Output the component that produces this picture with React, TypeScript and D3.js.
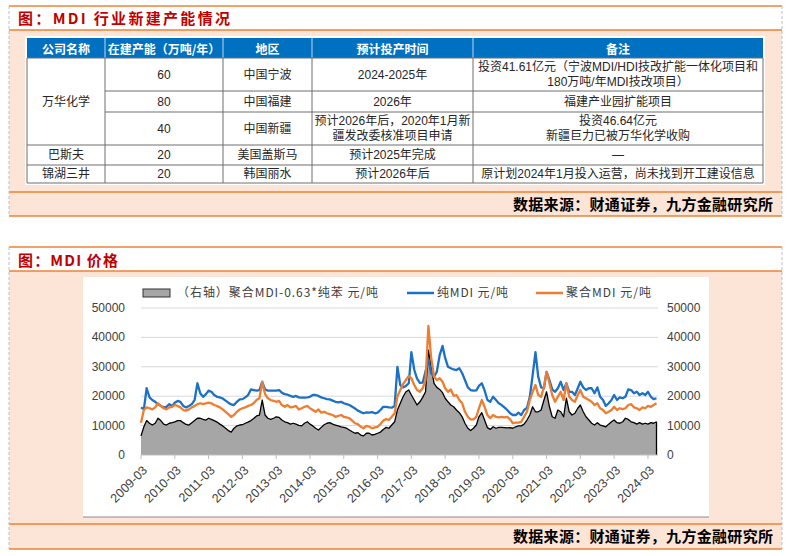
import * as d3 from "d3";
import React from "react";

// monthly points, 2009-03 .. 2024-06
const months = d3.timeMonth.range(new Date(2009, 2, 1), new Date(2024, 6, 1));

// 纯MDI 元/吨
const pureMdi = [
  16200, 15500, 22700, 19600, 18700, 18100, 17300, 16700, 16200, 16400,
  17300, 16700, 17800, 18400, 18100, 16700, 16200, 16700, 17300, 18700, 24400, 21000,
  19800, 20700, 21900, 21500, 20400, 19800, 19600, 19200, 18500, 17800, 17200, 17000,
  18100, 18900, 19000, 19600, 20400, 22300, 22100, 21900, 22100, 24900, 22300, 21900,
  21900, 21900, 21900, 22100, 21200, 20700, 20500, 20100, 19800, 20100, 19600, 19500,
  19500, 19600, 19800, 20400, 20400, 20100, 19600, 19300, 19000, 18900, 18500, 18100,
  17900, 18100, 17600, 17300, 17000, 16400, 15800, 15100, 14600, 14200, 14500, 14400,
  14600, 14200, 14400, 15300, 16400, 16400, 16200, 16100, 16700, 30000, 23800, 23000,
  23500, 24400, 35000, 29000, 26000, 24500, 24600, 28500, 32300, 27800, 26600, 28300,
  34000, 37100, 33000, 30000, 29500, 29100, 28900, 29500, 27800, 25500, 23000, 22100,
  21900, 22000, 23500, 24400, 22000, 18700, 18100, 19800, 18700, 17600, 17000, 16200,
  15300, 14200, 13600, 13600, 14400, 13600, 15300, 16000, 19800, 27000, 35000, 26600,
  23000, 22700, 28300, 25500, 22300, 21500, 22700, 24900, 22100, 24400, 21500, 21500,
  20400, 22700, 24900, 23000, 22100, 22700, 22700, 21000, 23000, 19800, 18700, 16700,
  17600, 18700, 20400, 18700, 19600, 19300, 19800, 22300, 22100, 21000, 21500, 20400,
  21000, 20400, 21500, 19800, 19000, 19300,
];

// 聚合MDI 元/吨
const polyMdi = [
  11000, 15300, 16200, 15900, 15500, 16200, 17600, 16700, 15900, 15500,
  16200, 16400, 17000, 16700, 16200, 15300, 15100, 15500, 16200, 16700, 17300, 17600,
  17300, 17600, 17800, 17600, 17000, 16700, 16200, 15500, 14700, 13900, 13000, 13600,
  14700, 15500, 15900, 16200, 16700, 17000, 17600, 18700, 19300, 24900, 20700, 19300,
  18700, 18400, 18100, 18400, 17000, 16400, 17000, 16200, 16400, 16700, 15500, 15900,
  16400, 16700, 15900, 15300, 14700, 15500, 14400, 14700, 14200, 13900, 13600, 13000,
  13300, 13600, 13000, 12800, 12500, 11700, 10800, 10500, 9600, 9100, 9900, 9600,
  9100, 9400, 9600, 10500, 11700, 12200, 11900, 13000, 14200, 20000, 22100, 24100,
  25500, 26900, 26100, 23800, 22100, 21500, 22700, 25500, 43900, 32900, 26600, 25500,
  26100, 24900, 22700, 21500, 22300, 20100, 20400, 18700, 17600, 14700, 13000, 12100,
  12100, 13000, 15900, 18700, 16400, 13600, 12500, 13600, 13000, 12800, 13000, 12800,
  13000, 12100, 10800, 11000, 11000, 11300, 13000, 14700, 18700, 21500, 23800, 20400,
  19800, 23200, 28300, 24400, 20400, 18100, 19800, 21500, 18700, 24400, 19800, 18700,
  18100, 20400, 22100, 19800, 19300, 18700, 18100, 17000, 17600, 15900, 15300, 14200,
  14700, 15300, 16400, 15300, 15900, 15600, 15900, 17000, 17300, 16200, 15900, 15300,
  16200, 15900, 16700, 16400, 17000, 17600,
];

// （右轴）聚合MDI-0.63*纯苯 元/吨
const spread = [
  6500, 9600, 11700, 10800, 10200, 10800, 12500, 11700, 10500, 10200,
  10800, 11000, 11300, 11700, 11700, 11000, 10400, 10200, 11000, 11700, 12500, 12500,
  12100, 11900, 12500, 12100, 11700, 11200, 10500, 9900, 9100, 8300, 7800, 9100,
  9900, 10200, 10300, 10800, 11200, 11700, 12400, 13300, 13600, 18700, 13600, 12500,
  12100, 12500, 13000, 12800, 11900, 11300, 11000, 10500, 10800, 10500, 10100, 9900,
  10800, 11300, 10500, 9900, 9100, 8500, 9400, 10300, 10800, 11000, 10500, 10200,
  9900, 9600, 9400, 9100, 8500, 7900, 7400, 7600, 6800, 6500, 7400, 7400,
  6800, 7000, 7400, 7800, 8700, 9400, 9100, 10200, 11300, 15300, 17600, 19800,
  21500, 22100, 20400, 18700, 17000, 18100, 19600, 21500, 35700, 30000, 24400, 23000,
  22300, 21200, 19300, 18100, 17000, 16400, 15300, 14400, 13000, 10800, 9100, 8300,
  9100, 10200, 13000, 14400, 11900, 9300, 8700, 9600, 9100, 9400, 9400, 9300,
  9200, 9300, 9100, 9600, 9900, 9900, 10500, 11900, 13600, 16400, 14700, 14700,
  15300, 18700, 21500, 16400, 13000, 12500, 15300, 14700, 13000, 19300, 14700, 13600,
  14200, 15900, 17000, 14700, 13000, 11900, 10800, 10200, 11000, 10200, 9900, 9600,
  10500, 11300, 11900, 11000, 10800, 11300, 12500, 12100, 11300, 11000, 10500, 11000,
  10500, 10800, 10500, 11000, 10800, 11300,
];

const yTicks = [0, 10000, 20000, 30000, 40000, 50000];
const xTickLabels = [
  "2009-03", "2010-03", "2011-03", "2012-03", "2013-03", "2014-03", "2015-03", "2016-03",
  "2017-03", "2018-03", "2019-03", "2020-03", "2021-03", "2022-03", "2023-03", "2024-03",
];

const tableHeader = ["公司名称", "在建产能（万吨/年）", "地区", "预计投产时间", "备注"];
const companies = [
  { name: "万华化学", span: 3 },
  { name: "巴斯夫", span: 1 },
  { name: "锦湖三井", span: 1 },
];
const capacities = ["60", "80", "40", "20", "20"];
const regions = ["中国宁波", "中国福建", "中国新疆", "美国盖斯马", "韩国丽水"];
const startTimes = [
  ["2024-2025年"],
  ["2026年"],
  ["预计2026年后，2020年1月新", "疆发改委核准项目申请"],
  ["预计2025年完成"],
  ["预计2026年后"],
];
const notes = [
  ["投资41.61亿元（宁波MDI/HDI技改扩能一体化项目和", "180万吨/年MDI技改项目）"],
  ["福建产业园扩能项目"],
  ["投资46.64亿元", "新疆巨力已被万华化学收购"],
  ["—"],
  ["原计划2024年1月投入运营，尚未找到开工建设信息"],
];

const FONT = "'Liberation Sans', 'Noto Sans CJK SC', sans-serif";
const CJK = "'Noto Sans CJK SC', sans-serif";
const ORANGE_RULE = "#EE8236";
const PEACH = "#FCE4D6";
const BLUE = "#1C71C6";
const ORANGE = "#EE7D31";

const colX = [27, 105, 223, 312, 473, 763];
const rowY = [38, 58, 91, 112, 145, 165, 183];

function Cell({ x, y, lines, lh = 15 }: { x: number; y: number; lines: string[]; lh?: number }) {
  const y0 = y - ((lines.length - 1) * lh) / 2;
  return (
    <>
      {lines.map((l, i) => (
        <text
          key={i}
          x={x}
          y={y0 + i * lh}
          textAnchor="middle"
          dominantBaseline="central"
          fontSize={12}
          fontFamily={FONT}
          fill="#262626"
        >
          {l}
        </text>
      ))}
    </>
  );
}

export default function App() {
  const PL = 141;
  const PR = 656.5;
  const x = d3.scaleTime().domain([months[0], months[months.length - 1]]).range([PL, PR]);
  const y = d3.scaleLinear().domain([0, 50000]).range([455, 308]);
  const parse = d3.timeParse("%Y-%m");

  const line = d3
    .line<number>()
    .x((_, i) => x(months[i]))
    .y((d) => y(d));
  const area = d3
    .area<number>()
    .x((_, i) => x(months[i]))
    .y0(y(0))
    .y1((d) => y(d));

  const lastX = x(months[months.length - 1]);
  const colMid = (c: number) => (colX[c] + colX[c + 1]) / 2;
  const rowMid = (r: number) => (rowY[r] + rowY[r + 1]) / 2;

  let rowCursor = 1;
  const companyCells = companies.map((c) => {
    const top = rowY[rowCursor];
    const bottom = rowY[rowCursor + c.span];
    rowCursor += c.span;
    return { ...c, top, bottom };
  });

  return (
    <svg
      width={794}
      height={556}
      style={{ position: "absolute", left: 0, top: 0, background: "#fff" }}
    >
      {/* panel backgrounds */}
      <rect x={9} y={30} width={773} height={186} fill={PEACH} />
      <rect x={9} y={271} width={773} height={278} fill={PEACH} />
      {[6, 30, 192, 216, 247, 271, 524, 549].map((yy) => (
        <line key={yy} x1={9} x2={782} y1={yy} y2={yy} stroke={ORANGE_RULE} strokeWidth={1.5} />
      ))}
      {[9, 782].map((xx) => (
        <g key={xx}>
          <line x1={xx} x2={xx} y1={6} y2={216} stroke="#BFBFBF" strokeDasharray="3,2" />
          <line x1={xx} x2={xx} y1={247} y2={549} stroke="#BFBFBF" strokeDasharray="3,2" />
        </g>
      ))}

      {/* titles */}
      <text x={18} y={24} fontSize={15} fontWeight="bold" fontFamily={CJK} fill="#C00000" textLength={212} lengthAdjust="spacing">
        图：MDI 行业新建产能情况
      </text>
      <text x={18} y={266} fontSize={15} fontWeight="bold" fontFamily={CJK} fill="#C00000" textLength={100} lengthAdjust="spacing">
        图：MDI 价格
      </text>
      {[210, 542].map((yy) => (
        <text key={yy} x={773} y={yy} textAnchor="end" fontSize={15} fontWeight="bold" fontFamily={CJK} fill="#000" textLength={260} lengthAdjust="spacing">
          数据来源：财通证券，九方金融研究所
        </text>
      ))}

      {/* table */}
      <rect x={25} y={36} width={740} height={149} fill="#fff" />
      <rect x={colX[0]} y={rowY[0]} width={colX[5] - colX[0]} height={rowY[1] - rowY[0]} fill="#0070C0" />
      {tableHeader.map((h, i) => (
        <text key={h} x={colMid(i)} y={rowMid(0)} textAnchor="middle" dominantBaseline="central" fontSize={12} fontWeight="bold" fontFamily={CJK} fill="#fff">
          {h}
        </text>
      ))}
      {colX.slice(1, 5).map((cx) => (
        <line key={cx} x1={cx} x2={cx} y1={rowY[0]} y2={rowY[1]} stroke="#BFD7EE" strokeWidth={1} />
      ))}
      {/* body grid */}
      {rowY.slice(1).map((ry, i) => (
        <line
          key={ry}
          x1={i === 0 || i === 3 || i === 4 || i === 5 ? colX[0] : colX[1]}
          x2={colX[5]}
          y1={ry}
          y2={ry}
          stroke="#6E6E6E"
          strokeWidth={1}
        />
      ))}
      {colX.map((cx) => (
        <line key={cx} x1={cx} x2={cx} y1={rowY[1]} y2={rowY[6]} stroke="#6E6E6E" strokeWidth={1} />
      ))}
      {companyCells.map((c) => (
        <Cell key={c.name} x={colMid(0)} y={(c.top + c.bottom) / 2} lines={[c.name]} />
      ))}
      {capacities.map((v, i) => (
        <Cell key={"c" + i} x={colMid(1)} y={rowMid(i + 1)} lines={[v]} />
      ))}
      {regions.map((v, i) => (
        <Cell key={"r" + i} x={colMid(2)} y={rowMid(i + 1)} lines={[v]} />
      ))}
      {startTimes.map((v, i) => (
        <Cell key={"t" + i} x={colMid(3)} y={rowMid(i + 1)} lines={v} />
      ))}
      {notes.map((v, i) => (
        <Cell key={"n" + i} x={colMid(4)} y={rowMid(i + 1)} lines={v} />
      ))}

      {/* chart panel */}
      <rect x={83} y={277} width={626} height={240} fill="#fff" />
      <line x1={83} x2={709} y1={517} y2={517} stroke="#8C8C8C" strokeWidth={1.2} />

      {yTicks.slice(1).map((t) => (
        <line key={t} x1={PL} x2={658} y1={y(t)} y2={y(t)} stroke="#D9D9D9" strokeWidth={1} />
      ))}
      {yTicks.map((t) => (
        <g key={"yl" + t} fontSize={12} fontFamily={FONT} fill="#404040">
          <text x={125} y={y(t)} textAnchor="end" dominantBaseline="central">
            {t}
          </text>
          <text x={667} y={y(t)} textAnchor="start" dominantBaseline="central">
            {t}
          </text>
        </g>
      ))}

      <path d={area(spread) ?? ""} fill="#A6A6A6" />
      <path d={line(spread) ?? ""} fill="none" stroke="#000" strokeWidth={1.3} strokeLinejoin="round" />
      <line x1={lastX} x2={lastX} y1={y(spread[spread.length - 1])} y2={y(0)} stroke="#000" strokeWidth={1.3} />
      <path d={line(pureMdi) ?? ""} fill="none" stroke={BLUE} strokeWidth={2.3} strokeLinejoin="round" />
      <path d={line(polyMdi) ?? ""} fill="none" stroke={ORANGE} strokeWidth={2.3} strokeLinejoin="round" />

      <line x1={PL} x2={658} y1={y(0)} y2={y(0)} stroke="#BFBFBF" strokeWidth={1} />
      {xTickLabels.map((lab) => {
        const tx = x(parse(lab) as Date);
        return (
          <g key={lab}>
            <line x1={tx} x2={tx} y1={y(0)} y2={y(0) + 4} stroke="#BFBFBF" />
            <text
              transform={`translate(${tx + 7},${471}) rotate(-45)`}
              textAnchor="end"
              fontSize={12.5}
              fontFamily={FONT}
              fill="#404040"
            >
              {lab}
            </text>
          </g>
        );
      })}

      {/* legend */}
      <rect x={143} y={289} width={27} height={8} fill="#A6A6A6" stroke="#333" strokeWidth={1} />
      <text x={177} y={297} fontSize={12} fontFamily={CJK} fill="#404040" textLength={201} lengthAdjust="spacing">
        （右轴）聚合MDI-0.63*纯苯 元/吨
      </text>
      <line x1={407} x2={434} y1={293} y2={293} stroke={BLUE} strokeWidth={2.5} />
      <text x={437} y={297} fontSize={12} fontFamily={CJK} fill="#404040" textLength={71} lengthAdjust="spacing">
        纯MDI 元/吨
      </text>
      <line x1={536} x2={563} y1={293} y2={293} stroke={ORANGE} strokeWidth={2.5} />
      <text x={566} y={297} fontSize={12} fontFamily={CJK} fill="#404040" textLength={85} lengthAdjust="spacing">
        聚合MDI 元/吨
      </text>
    </svg>
  );
}
